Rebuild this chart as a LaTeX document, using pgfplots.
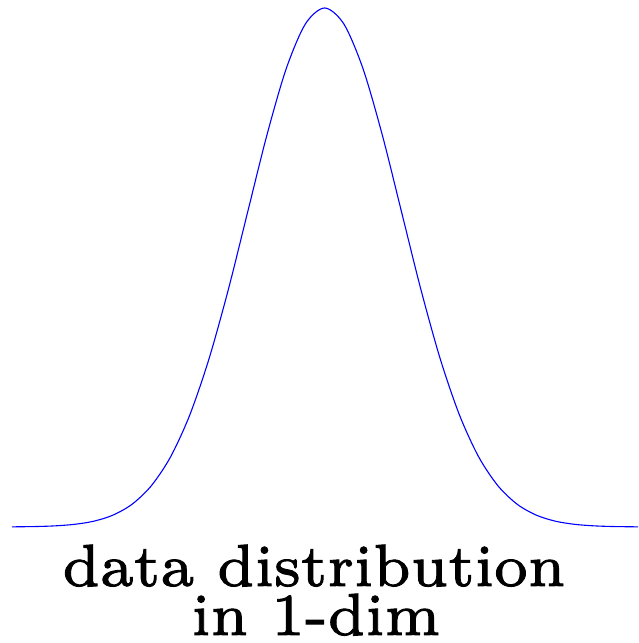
\documentclass[border=0pt]{standalone}
\usepackage{graphicx}
\usepackage{fontspec}
\newfontfamily\labelfont[FakeBold=1.5]{lmroman7-regular.otf}
\usepackage{pgfplots}
\pgfplotsset{compat=1.18}
\begin{document}
\begin{tikzpicture}[x=1pt,y=1pt]
  \useasboundingbox (0,0) rectangle (638,643);
  \begin{axis}[
    at={(12pt,116pt)}, anchor=south west,
    scale only axis, width=626pt, height=519pt,
    xmin=-4.06, xmax=4.07, ymin=0, ymax=1,
    hide axis, clip=false,
  ]
    % bell-shaped density, x in units of sigma
    \addplot[blue, line width=1.1pt, smooth] coordinates {
      (-4.06,0.0003) (-3.75,0.0009) (-3.5,0.0022)
      (-3.25,0.0051) (-3.0,0.0111) (-2.75,0.0228) (-2.5,0.0439)
      (-2.25,0.0796) (-2.0,0.1353) (-1.75,0.2163) (-1.5,0.3247)
      (-1.25,0.4578) (-1.0,0.6065) (-0.75,0.7548) (-0.5,0.8825)
      (-0.25,0.9692) (0,1.0) (0.25,0.9692) (0.5,0.8825)
      (0.75,0.7548) (1.0,0.6065) (1.25,0.4578) (1.5,0.3247)
      (1.75,0.2163) (2.0,0.1353) (2.25,0.0796) (2.5,0.0439)
      (2.75,0.0228) (3.0,0.0111) (3.25,0.0051) (3.5,0.0022)
      (3.75,0.0009) (4.07,0.0003)
    };
  \end{axis}
  \node[anchor=base, inner sep=0pt] at (314,57)
    {\scalebox{8.5}{\fontsize{7}{8}\labelfont data distribution}};
  \node[anchor=base, inner sep=0pt] at (316,8)
    {\scalebox{8.5}{\fontsize{7}{8}\labelfont in 1-dim}};
\end{tikzpicture}
\end{document}
